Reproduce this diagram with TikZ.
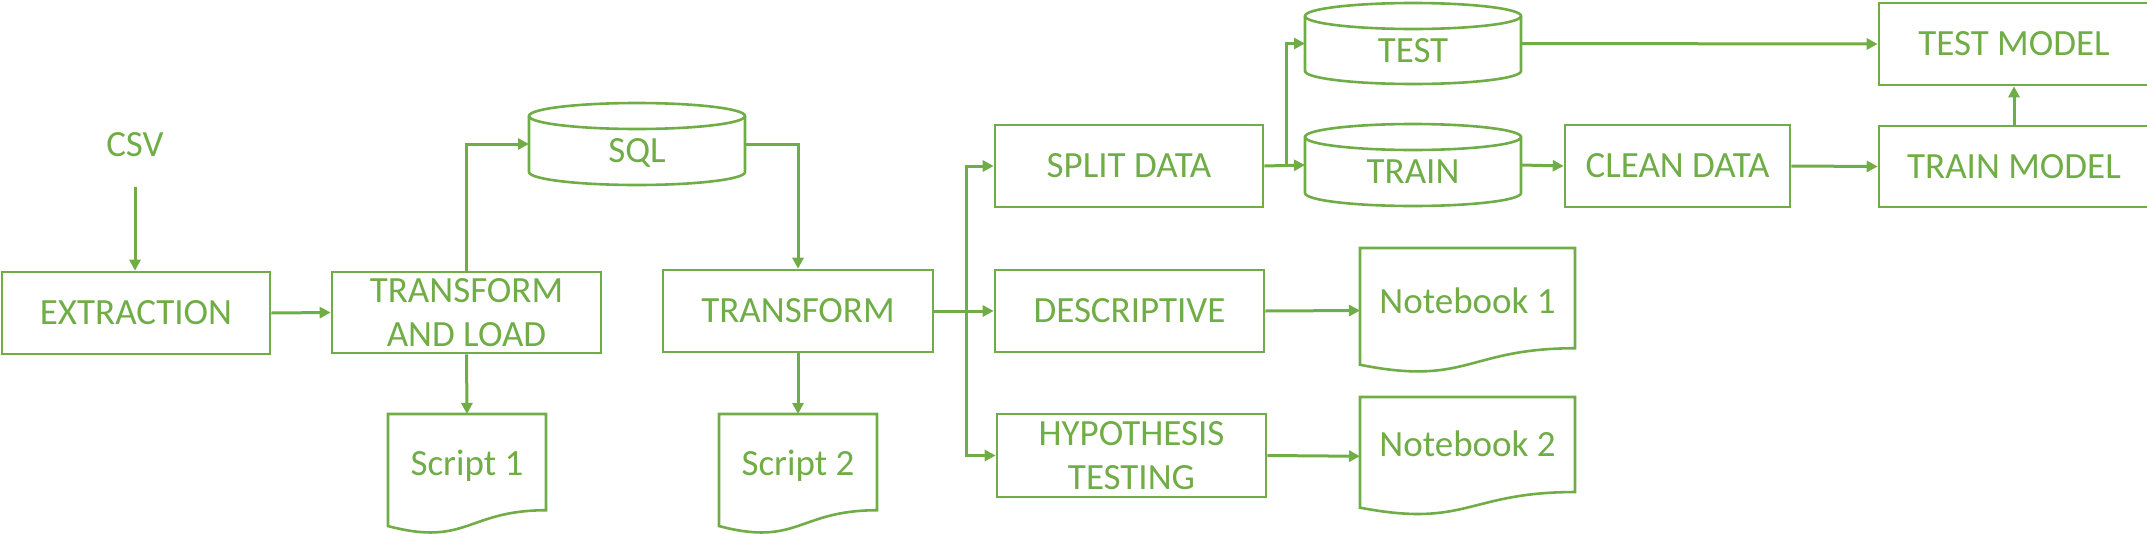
\documentclass[tikz,border=0pt]{standalone}
\usepackage{fontspec}
\setmainfont{Carlito}
\usetikzlibrary{arrows.meta,calc}
\definecolor{grn}{HTML}{70AD47}
\tikzset{
  shp/.style={draw=grn, line width=2.6pt},
  ln/.style={draw=grn, line width=2.6pt},
  arr/.style={draw=grn, line width=3pt, -{Triangle[length=11pt,width=11pt]}},
  lbl/.style={text=grn, font=\fontsize{37pt}{45pt}\selectfont, inner sep=0pt, text height=23.5pt, text depth=0pt},
  lbl2/.style={text=grn, font=\fontsize{37pt}{44.5pt}\selectfont, inner sep=0pt, align=center},
  hid/.style={inner sep=0pt, outer sep=0pt},
}
% box node by corners
\newcommand\bxnode[7][]{%
  \pgfmathsetmacro\bxcx{(#3+#5)/2}\pgfmathsetmacro\bxcy{(#4+#6)/2}%
  \pgfmathsetmacro\bxw{#5-#3}\pgfmathsetmacro\bxh{#6-#4}%
  \node[#1, minimum width=\bxw pt, minimum height=\bxh pt] (#2) at (\bxcx,\bxcy) {#7};}
% cylinder
\newcommand\cylnode[7]{%
  \pgfmathsetmacro\cyrx{(#4-#2)/2}\pgfmathsetmacro\cyxm{(#2+#4)/2}%
  \pgfmathsetmacro\cyt{#3+13}\pgfmathsetmacro\cyb{#5-13}%
  \pgfmathsetmacro\cykb{#5-13+0.5523*13}%
  \pgfmathsetmacro\cyka{\cyxm-0.5523*\cyrx}\pgfmathsetmacro\cykc{\cyxm+0.5523*\cyrx}%
  \bxnode[hid]{#1}{#2}{#3}{#4}{#5}{}%
  \draw[ln] (\cyxm,\cyt) ellipse [x radius=\cyrx, y radius=13];
  \draw[ln] (#2,\cyt) -- (#2,\cyb) .. controls (#2,\cykb) and (\cyka,#5) .. (\cyxm,#5)
     .. controls (\cykc,#5) and (#4,\cykb) .. (#4,\cyb) -- (#4,\cyt);
  \node[lbl] (#1t) at (\cyxm,#6) {#7};}
% document shape
\newcommand\docnode[7]{%
  \pgfmathsetmacro\dch{#5-#3}%
  \pgfmathsetmacro\dcyr{#3+\dch*0.80194}\pgfmathsetmacro\dcyl{#3+\dch*0.93389}%
  \pgfmathsetmacro\dcyc{#3+\dch*1.10750}\pgfmathsetmacro\dcxm{(#2+#4)/2}%
  \bxnode[hid]{#1}{#2}{#3}{#4}{#5}{}%
  \draw[ln, line join=miter] (#2,#3) -- (#4,#3) -- (#4,\dcyr) .. controls (\dcxm,\dcyr) and (\dcxm,\dcyc) .. (#2,\dcyl) -- cycle;
  \node[lbl] (#1t) at (\dcxm,#6) {#7};}
\begin{document}
\begin{tikzpicture}[x=1pt,y=-1pt]
\useasboundingbox (0,0) rectangle (2147,533);
\clip (0,0) rectangle (2147,533);
\node[lbl] (csv) at (135,145) {CSV};
\coordinate (csvout) at ($(csv.south)+(0,30)$);
\bxnode[shp,lbl]{ext}{2}{272}{270}{354}{EXTRACTION}
\bxnode[shp,lbl2]{tl}{332}{272}{601}{353}{TRANSFORM\\AND LOAD}
\cylnode{sql}{529}{103}{745}{185}{150.5}{SQL}
\bxnode[shp,lbl]{tr}{663}{270}{933}{352}{TRANSFORM}
\docnode{sa}{388}{414}{546}{534}{463.5}{Script 1}
\docnode{sb}{719}{414}{877}{534}{463.5}{Script 2}
\bxnode[shp,lbl]{split}{995}{125}{1263}{207}{SPLIT DATA}
\bxnode[shp,lbl]{desc}{995}{270}{1264}{352}{DESCRIPTIVE}
\bxnode[shp,lbl2]{hyp}{997}{414}{1266}{497}{HYPOTHESIS\\TESTING}
\docnode{nba}{1360}{248}{1575}{373}{301.5}{Notebook 1}
\docnode{nbb}{1360}{397}{1575}{515.5}{445}{Notebook 2}
\cylnode{test}{1305}{3}{1521}{84}{51}{TEST}
\cylnode{train}{1305}{124}{1521}{206}{172}{TRAIN}
\bxnode[shp,lbl]{clean}{1565}{125}{1790}{207}{CLEAN DATA}
\bxnode[shp,lbl]{tstm}{1879}{3}{2149}{85}{TEST MODEL}
\bxnode[shp,lbl]{trnm}{1879}{126}{2149}{207}{TRAIN MODEL}
% connectors
\draw[arr] (csvout) -- (csvout |- ext.north);
\draw[arr] (ext.east) -- (tl.west);
\draw[arr] (tl.north) |- (sql.west);
\draw[arr] (sql.east) -| (tr.north);
\draw[arr] (tl.south) -- (sa.north);
\draw[arr] (tr.south) -- (sb.north);
\coordinate (j1) at ($(tr.east)+(32,0)$);
\draw[arr] (tr.east) -- (desc.west);
\draw[arr] (j1) |- (split.west);
\draw[arr] (j1) |- (hyp.west);
\draw[arr] (desc.east) -- (nba.west);
\draw[arr] (hyp.east) -- (nbb.west);
\coordinate (j2) at ($(split.east)+(22,0)$);
\draw[arr] (split.east) -- (train.west);
\draw[arr] (j2) |- (test.west);
\draw[arr] (test.east) -- (tstm.west);
\draw[arr] (train.east) -- (clean.west);
\draw[arr] (clean.east) -- (trnm.west);
\draw[arr] (trnm.north) -- (tstm.south);
\end{tikzpicture}
\end{document}
